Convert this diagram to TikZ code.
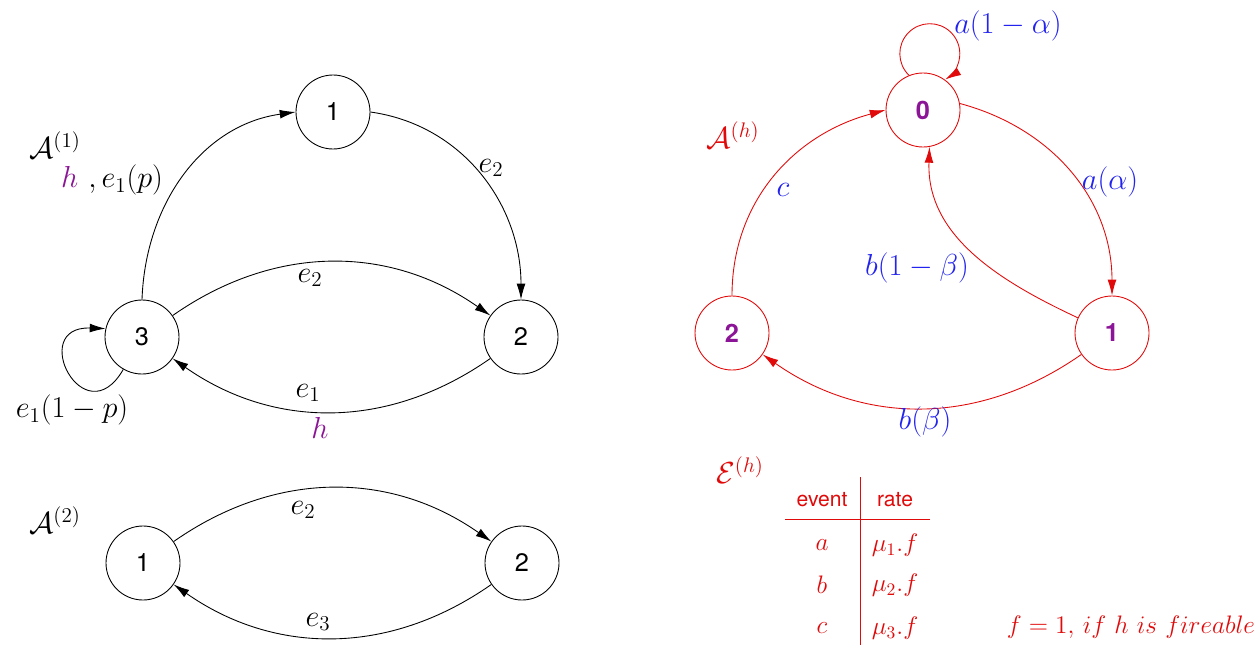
\documentclass[tikz,border=0pt]{standalone}
\usepackage{amsmath}
\usepackage{amssymb}
\usepackage{fontspec}
\setsansfont{TeX Gyre Heros}
\usepackage{tikz}
\usetikzlibrary{arrows.meta}

\definecolor{hpurple}{RGB}{140,20,150}
\definecolor{autred}{RGB}{225,10,10}
\definecolor{lblblue}{RGB}{35,35,240}

\tikzset{
  state/.style={circle,draw,line width=0.5pt,minimum size=1.48cm,inner sep=0pt,font=\sffamily\Large},
  hstate/.style={state,draw=autred,text=hpurple,font=\sffamily\bfseries\Large},
  lbl/.style={font=\LARGE,inner sep=1pt},
  hlbl/.style={lbl,text=lblblue},
  cell/.style={text=autred,inner sep=1pt}
}

\begin{document}
\begin{tikzpicture}[>={Latex[length=9pt,width=5pt]}, line width=0.5pt]
      \useasboundingbox (0,0) rectangle (25.12,12.92);

      % Automaton A^(1)
      \node[state] (a1) at (6.66,10.68) {1};
      \node[state] (a3) at (2.84,6.18) {3};
      \node[state] (a2) at (10.42,6.18) {2};

      \draw[->] (a3.north) to[out=88,in=188] (a1.west);
      \draw[->] (a1.east) to[out=-8,in=90] (a2.north);
      \draw[->] (a3) to[bend left=35] (a2);
      \draw[->] (a2) to[bend left=35] (a3);
      \draw[->] (a3.240) to[out=240,in=178,looseness=4.5] (a3.167);

      \node[lbl] (A1) at (1.1,10.02) {$\mathcal{A}^{(1)}$};
      \node[lbl] (l31) at (2.24,9.32) {{\color{hpurple}$h$}\,\,$,e_1(p)$};
      \node[lbl] (l12) at (9.82,9.56) {$e_2$};
      \node[lbl] (l32) at (6.2,7.36) {$e_2$};
      \node[lbl] (l23) at (6.16,5.06) {$e_1$};
      \node[lbl,text=hpurple] (l23h) at (6.4,4.36) {$h$};
      \node[lbl] (l33) at (1.44,4.72) {$e_1(1-p)$};

      % Automaton A^(2)
      \node[state] (b1) at (2.86,1.66) {1};
      \node[state] (b2) at (10.44,1.66) {2};

      \draw[->] (b1) to[bend left=35] (b2);
      \draw[->] (b2) to[bend left=35] (b1);

      \node[lbl] (A2) at (1.1,2.52) {$\mathcal{A}^{(2)}$};
      \node[lbl] (m12) at (6.06,2.72) {$e_2$};
      \node[lbl] (m21) at (6.36,0.48) {$e_3$};

      % Automaton A^(h)
      \begin{scope}[draw=autred,color=autred]
        \node[hstate] (h0) at (18.46,10.72) {0};
        \node[hstate] (h2) at (14.64,6.26) {2};
        \node[hstate] (h1) at (22.24,6.26) {1};

        \draw[->] (h2.north) to[out=90,in=195] (h0.west);
        \draw[->] (h0.10) to[out=-15,in=90] (h1.north);
        \draw[->] (h1.156) to[out=155,in=-92] (h0.-80);
        \draw[->] (h1) to[bend left=35] (h2);
        \draw[->] (h0.112) arc[start angle=226,end angle=-59,radius=0.6];
      \end{scope}

      \node[lbl,text=autred] (Ah) at (14.66,10.22) {$\mathcal{A}^{(h)}$};
      \node[hlbl] (k00) at (20.16,12.4) {$a(1-\alpha)$};
      \node[hlbl] (k20) at (15.66,9.12) {$c$};
      \node[hlbl] (k01) at (22.2,9.28) {$a(\alpha)$};
      \node[hlbl] (k10) at (18.34,7.56) {$b(1-\beta)$};
      \node[hlbl] (k12) at (18.5,4.48) {$b(\beta)$};

      % Event table E^(h)
      \node[lbl,text=autred] (Eh) at (14.8,3.52) {$\mathcal{E}^{(h)}$};
      \draw[autred] (17.2,3.38) -- (17.2,0.02);
      \draw[autred] (15.7,2.54) -- (18.6,2.54);
      \node[cell,font=\sffamily\large] (ev) at (16.44,2.92) {event};
      \node[cell,font=\sffamily\large] (rt) at (17.9,2.92) {rate};
      \foreach \ev/\rate/\y in {a/1/2.02, b/2/1.22, c/3/0.36}{
        \node[cell,font=\Large] at (16.44,\y) {$\ev$};
        \node[cell,font=\Large] at (17.9,\y) {$\mu_{\rate}.f$};
      }
      \node[cell,font=\Large] (fire) at (22.62,0.38) {$f=1,\,if\ h\ is\ fireable$};
\end{tikzpicture}
\end{document}
